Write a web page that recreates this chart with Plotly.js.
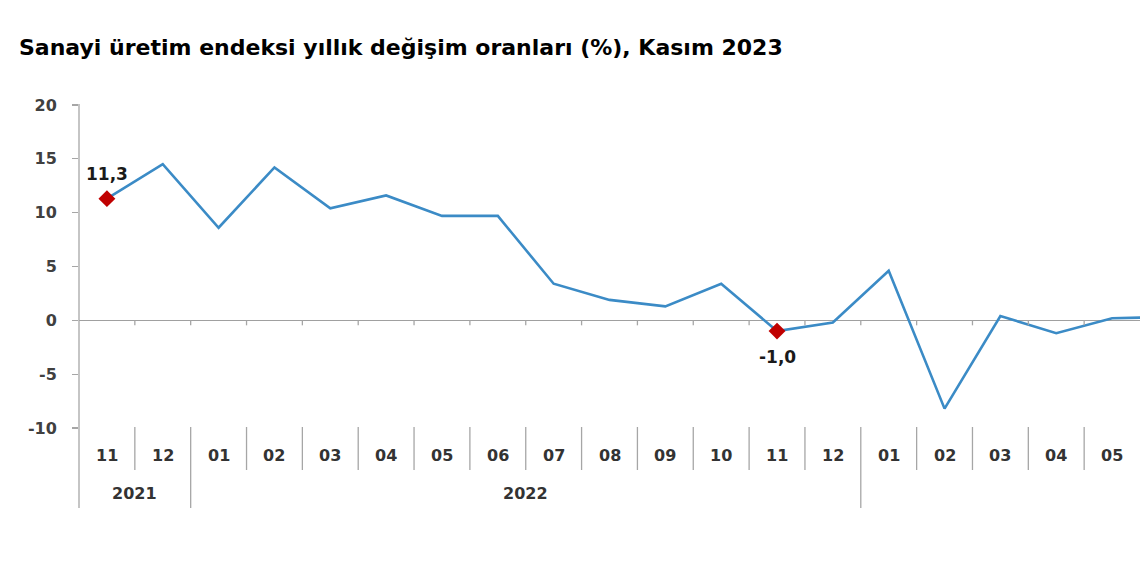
<!DOCTYPE html>
<html>
<head>
<meta charset="utf-8">
<script src="https://cdn.plot.ly/plotly-3.0.1.min.js"></script>
<style>
html,body{margin:0;padding:0;background:#fff;overflow:hidden;}
#chart{width:1140px;height:570px;}
</style>
</head>
<body>
<div id="chart"></div>
<script>
// ---- data ----
const months = ['11','12','01','02','03','04','05','06','07','08','09','10','11','12','01','02','03','04','05','06'];
const years  = ['2021','2021','2022','2022','2022','2022','2022','2022','2022','2022','2022','2022','2022','2022','2023','2023','2023','2023','2023','2023'];
const values = [11.3, 14.5, 8.6, 14.2, 10.4, 11.6, 9.7, 9.7, 3.4, 1.9, 1.3, 3.4, -1.0, -0.2, 4.6, -8.2, 0.4, -1.2, 0.2, 0.3];
const yearLabels = ['2021', '2022'];        // year captions visible in the picture
const highlighted = [0, 12];               // indices with red diamond + label
const labelTexts = ['11,3', '-1,0'];
const yTicks = [-10, -5, 0, 5, 10, 15, 20];
const titleText = 'Sanayi üretim endeksi yıllık değişim oranları (%), Kasım 2023';

// ---- geometry helpers (pixels -> paper) ----
const plotTop = 105, plotBottom = 428, plotH = plotBottom - plotTop;
const px2paper = p => -(p - plotBottom) / plotH;

const xs = values.map((_, i) => i);
const visibleN = 19;
const FONT = 'DejaVu Sans, Arial, sans-serif';

const traces = [
  {
    x: xs, y: values, type: 'scatter', mode: 'lines',
    line: {color: '#3b8bc6', width: 2.6},
    hoverinfo: 'skip', showlegend: false
  },
  {
    x: highlighted.map(i => xs[i]), y: highlighted.map(i => values[i]),
    type: 'scatter', mode: 'markers',
    marker: {symbol: 'diamond', size: 13, color: '#c00000'},
    hoverinfo: 'skip', showlegend: false, cliponaxis: false
  }
];

const shapes = [];
const annotations = [];
const grey = '#a6a6a6';

// y-axis line extended down through label area
shapes.push({type:'line', xref:'paper', yref:'paper', x0:0, x1:0, y0:px2paper(104), y1:px2paper(508),
  line:{color:grey, width:1.3}});

// small ticks on the zero line at category boundaries + separators below
for (let i = 1; i < visibleN; i++) {
  const bx = i - 0.5;
  shapes.push({type:'line', xref:'x', yref:'y', ysizemode:'pixel', yanchor:0, x0:bx, x1:bx, y0:0, y1:-5,
    line:{color:grey, width:1.3}});
  const yearBoundary = years[i] !== years[i-1];
  shapes.push({type:'line', xref:'x', yref:'paper', x0:bx, x1:bx, y0:px2paper(427),
    y1: yearBoundary ? px2paper(508) : px2paper(470),
    line:{color:grey, width:1.3}});
}

// month labels
for (let i = 0; i < visibleN; i++) {
  annotations.push({x:xs[i], y:0, xref:'x', yref:'paper', yshift:-27, yanchor:'middle',
    text:'<b>'+months[i]+'</b>', showarrow:false, font:{family:FONT, size:16, color:'#333'}});
}
// year labels (centered on their months)
yearLabels.forEach(yr => {
  const idx = years.map((v,i)=>v===yr?i:-1).filter(i=>i>=0);
  const center = (idx[0] + idx[idx.length-1]) / 2;
  annotations.push({x:center, y:0, xref:'x', yref:'paper', yshift:-65, yanchor:'middle',
    text:'<b>'+yr+'</b>', showarrow:false, font:{family:FONT, size:16, color:'#333'}});
});

// data labels
annotations.push({x:xs[highlighted[0]], y:values[highlighted[0]], xref:'x', yref:'y', yshift:25, yanchor:'middle',
  text:'<b>'+labelTexts[0]+'</b>', showarrow:false, font:{family:FONT, size:17, color:'#1a1a1a'}});
annotations.push({x:xs[highlighted[1]], y:values[highlighted[1]], xref:'x', yref:'y', yshift:-26, yanchor:'middle',
  text:'<b>'+labelTexts[1]+'</b>', showarrow:false, font:{family:FONT, size:17, color:'#1a1a1a'}});

const layout = {
  width: 1140, height: 570,
  margin: {l: 79, r: 0, t: plotTop, b: 570 - plotBottom, pad: 0},
  paper_bgcolor: '#fff', plot_bgcolor: '#fff',
  title: {
    text: '<b>' + titleText + '</b>',
    x: 19/1140, xanchor: 'left', xref: 'container',
    y: 1 - 47/570, yanchor: 'middle', yref: 'container',
    font: {family: FONT, size: 22, color: '#000'}
  },
  xaxis: {
    range: [-0.5, visibleN - 0.5], showgrid: false, zeroline: false, showline: false,
    showticklabels: false, ticks: '', fixedrange: true
  },
  yaxis: {
    range: [-10, 20], tickvals: yTicks, ticktext: yTicks.map(v => '<b>' + v + '</b>'),
    showgrid: false, zeroline: true, zerolinecolor: '#a0a0a0', zerolinewidth: 1.6,
    showline: false, ticks: 'outside', ticklen: 6, tickcolor: grey, tickwidth: 1.3,
    tickfont: {family: FONT, size: 16, color: '#404040'},
    ticklabelstandoff: 12, fixedrange: true
  },
  shapes: shapes,
  annotations: annotations,
  showlegend: false
};

Plotly.newPlot('chart', traces, layout, {displayModeBar: false, staticPlot: true});
</script>
</body>
</html>
